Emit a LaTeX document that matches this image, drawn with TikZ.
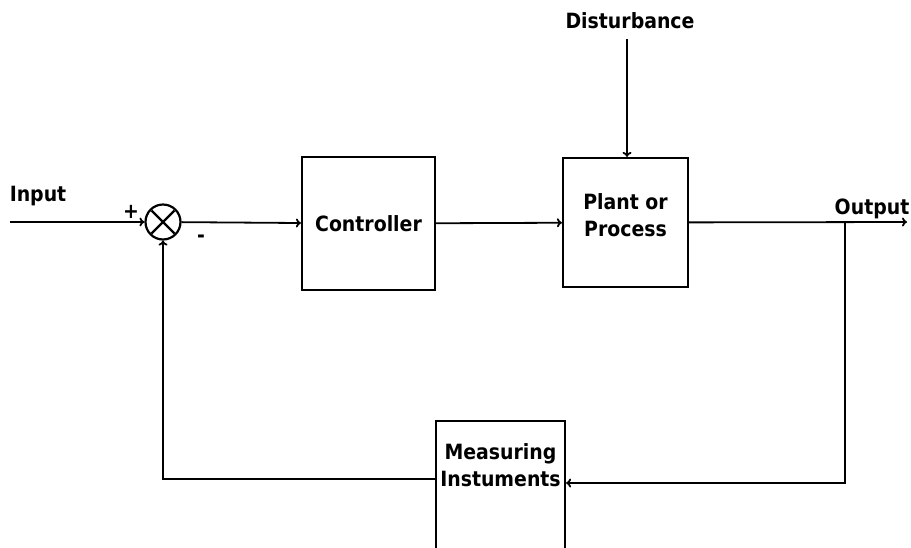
\documentclass[tikz,border=0pt]{standalone}
\usepackage{fontspec}
\setmainfont{DejaVu Sans Condensed}
\usetikzlibrary{arrows.meta}

\tikzset{
  block/.style={draw, line width=2.2pt, inner sep=1pt, align=center, font=\bfseries\fontsize{21}{27}\selectfont},
  lbl/.style={font=\bfseries\fontsize{21}{27}\selectfont, inner sep=0pt},
  sumnode/.style={draw, circle, line width=2.2pt, minimum size=35pt, inner sep=0pt,
    path picture={\draw[line width=2.2pt] (path picture bounding box.south west) ++(6pt,6pt) -- ++(23pt,23pt)
      (path picture bounding box.north west) ++(6pt,-6pt) -- ++(23pt,-23pt);}},
  flow/.style={line width=1.8pt, -{To[length=5pt,width=9pt]}}
}

\begin{document}
\begin{tikzpicture}[x=1pt,y=-1pt]
  \useasboundingbox (0,0) rectangle (911,547);

  % blocks
  \node[sumnode] (sum) at (163,222) {};
  \node[block, minimum width=133pt, minimum height=133pt] (ctrl) at (368.5,223.5) {Controller};
  \node[block, minimum width=125pt, minimum height=129pt, text depth=14pt] (plant) at (625.5,222.5) {Plant or\\Process};
  \node[block, minimum width=129pt, minimum height=128pt, text depth=40pt] (meas) at (500.5,485) {Measuring\\Instuments};

  % labels
  \node[lbl] (in) at (38,196) {Input};
  \node[lbl] (dist) at (630,21) {Disturbance};
  \node[lbl] (out) at (872,209) {Output};
  \node[lbl] (plus) at (131,212) {+};
  \node[lbl] (minus) at (201,239) {-};

  \coordinate (start) at (10,222);
  \coordinate (end) at (907,222);
  \coordinate (branch) at (845,222);
  \coordinate (dtop) at (627,39);

  % forward path
  \draw[flow] (start) -- (sum);
  \draw[flow] (sum) -- (ctrl);
  \draw[flow] (ctrl) -- (plant);
  \draw[flow] (plant) -- (end);
  \draw[flow] (dtop) -- (plant.north -| dtop);

  % feedback
  \draw[flow] (branch) |- (meas.east |- 0,483);
  \draw[flow] (meas.west |- 0,479) -| (sum);
\end{tikzpicture}
\end{document}
